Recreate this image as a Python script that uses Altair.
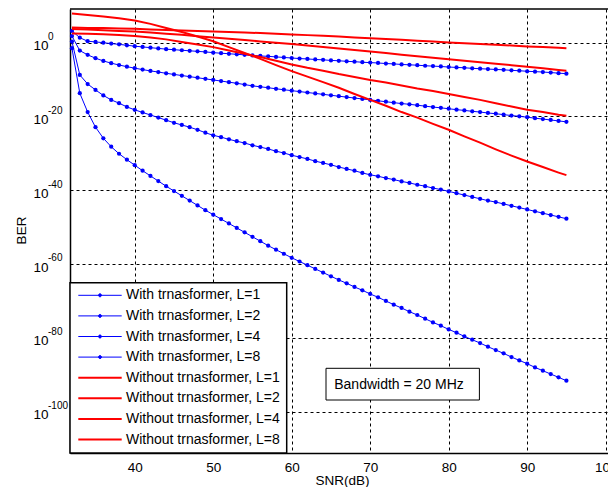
import altair as alt
import pandas as pd

# ---------------- data (log10 of BER) ----------------
snr_with = list(range(32, 96))
snr_without = list(range(32, 95, 2)) + [95]

series_with = ["With trnasformer, L=1", "With trnasformer, L=2",
               "With trnasformer, L=4", "With trnasformer, L=8"]
series_without = ["Without trnasformer, L=1", "Without trnasformer, L=2",
                  "Without trnasformer, L=4", "Without trnasformer, L=8"]

log_ber_with_L1 = [3.2, 1.35, 0.4, 0.2, 0.0, -0.25, -0.45, -0.7, -0.95, -1.15, -1.35, -1.55, -1.75, -1.9,
                   -2.05, -2.2, -2.35, -2.5, -2.7, -2.85, -3.0, -3.15, -3.3, -3.45, -3.6, -3.7, -3.85, -4.0,
                   -4.15, -4.3, -4.4, -4.55, -4.65, -4.8, -4.9, -5.05, -5.15, -5.3, -5.4, -5.5, -5.65, -5.75,
                   -5.9, -6.0, -6.1, -6.25, -6.35, -6.45, -6.6, -6.7, -6.8, -6.95, -7.05, -7.15, -7.25, -7.35,
                   -7.5, -7.6, -7.75, -7.85, -7.95, -8.1, -8.25, -8.4]
log_ber_with_L2 = [1.8, -2.15, -3.3, -4.2, -4.95, -5.55, -6.05, -6.5, -6.9, -7.3, -7.65, -7.95, -8.3, -8.6,
                   -8.9, -9.2, -9.5, -9.8, -10.1, -10.4, -10.7, -11.0, -11.35, -11.7, -11.95, -12.2, -12.5,
                   -12.75, -13.0, -13.25, -13.5, -13.75, -14.0, -14.25, -14.5, -14.75, -15.0, -15.25, -15.5,
                   -15.75, -16.0, -16.25, -16.5, -16.7, -16.95, -17.2, -17.45, -17.65, -17.9, -18.15, -18.35,
                   -18.6, -18.8, -19.05, -19.25, -19.5, -19.75, -19.95, -20.2, -20.45, -20.7, -20.95, -21.2,
                   -21.45]
log_ber_with_L4 = [0.3, -8.75, -11.2, -12.8, -14.3, -15.5, -16.4, -17.4, -18.2, -18.9, -19.6, -20.3, -21.0,
                   -21.7, -22.3, -22.9, -23.6, -24.4, -25.1, -25.6, -26.2, -26.7, -27.2, -27.8, -28.3, -28.8,
                   -29.4, -29.9, -30.5, -31.0, -31.5, -32.1, -32.6, -33.1, -33.7, -34.2, -34.7, -35.3, -35.8,
                   -36.2, -36.7, -37.1, -37.6, -38.0, -38.5, -38.9, -39.4, -39.8, -40.3, -40.8, -41.3, -41.8,
                   -42.3, -42.8, -43.2, -43.7, -44.2, -44.7, -45.2, -45.7, -46.2, -46.7, -47.2, -47.7]
log_ber_with_L8 = [-1.5, -13.7, -18.8, -22.9, -25.9, -28.2, -30.1, -31.7, -33.2, -34.7, -36.1, -37.5, -38.9,
                   -40.2, -41.5, -42.8, -44.1, -45.4, -46.6, -47.8, -49.0, -50.2, -51.4, -52.6, -53.8, -55.0,
                   -56.1, -57.2, -58.3, -59.3, -60.3, -61.3, -62.3, -63.3, -64.3, -65.2, -66.2, -67.1, -68.1,
                   -69.0, -70.0, -71.0, -71.9, -72.9, -73.8, -74.8, -75.8, -76.7, -77.7, -78.6, -79.6, -80.5,
                   -81.4, -82.4, -83.3, -84.2, -85.2, -86.1, -87.0, -88.0, -88.9, -89.8, -90.7, -91.6]

log_ber_without_L1 = [4.1, 4.0, 3.95, 3.85, 3.75, 3.6, 3.45, 3.3, 3.15, 3.0, 2.9, 2.75, 2.6, 2.45, 2.25,
                      2.05, 1.85, 1.65, 1.4, 1.2, 1.0, 0.8, 0.55, 0.3, 0.05, -0.15, -0.35, -0.55, -0.75,
                      -1.0, -1.2, -1.4, -1.5]
log_ber_without_L2 = [3.7, 3.55, 3.4, 3.2, 3.0, 2.75, 2.45, 2.15, 1.75, 1.4, 1.05, 0.7, 0.35, 0.0, -0.35,
                      -0.75, -1.15, -1.55, -1.95, -2.4, -2.8, -3.25, -3.7, -4.1, -4.5, -4.9, -5.3, -5.7,
                      -6.1, -6.5, -6.95, -7.4, -7.6]
log_ber_without_L4 = [2.5, 2.45, 2.3, 2.1, 1.8, 1.4, 0.9, 0.2, -0.5, -1.2, -2.1, -3.0, -3.9, -4.9, -5.9,
                      -6.8, -7.6, -8.5, -9.3, -10.1, -10.8, -11.6, -12.4, -13.1, -13.9, -14.7, -15.5, -16.4,
                      -17.3, -18.2, -18.8, -19.5, -19.8]
log_ber_without_L8 = [7.9, 7.5, 7.1, 6.6, 6.0, 5.1, 4.0, 2.9, 1.7, 0.4, -1.2, -2.8, -4.4, -6.1, -7.7, -9.2,
                      -10.7, -12.2, -13.9, -15.5, -17.1, -18.8, -20.3, -22.0, -23.6, -25.4, -27.1, -28.9,
                      -30.6, -32.2, -33.7, -35.2, -35.9]

x_ticks = [40, 50, 60, 70, 80, 90, 100]
y_tick_exps = [0, -20, -40, -60, -80, -100]
annotation_text = ["Bandwidth = 20 MHz"]

# ---------------- tables ----------------
rows = []
for name, vals in zip(series_with, [log_ber_with_L1, log_ber_with_L2, log_ber_with_L4, log_ber_with_L8]):
    for s, e in zip(snr_with, vals):
        rows.append({"snr": s, "ber": 10.0 ** e, "series": name})
df_with = pd.DataFrame(rows)

rows = []
for name, vals in zip(series_without, [log_ber_without_L1, log_ber_without_L2,
                                       log_ber_without_L4, log_ber_without_L8]):
    for s, e in zip(snr_without, vals):
        rows.append({"snr": s, "ber": 10.0 ** e, "series": name})
df_without = pd.DataFrame(rows)

df_note = pd.DataFrame({"label": annotation_text})
df_exp = pd.DataFrame({"ber": [10.0 ** e for e in y_tick_exps],
                       "exp": [str(e) for e in y_tick_exps]})

FONT = "Liberation Sans"
PLOT_W, PLOT_H = 538, 444

# ---------------- scales / axes ----------------
x_enc = alt.X("snr:Q",
              scale=alt.Scale(domain=[31.75, 100.3], nice=False, zero=False),
              axis=alt.Axis(values=x_ticks, title="SNR(dB)", format="d",
                            titleX=272, titleY=27, titleBaseline="middle", titleAlign="center"))
y_enc = alt.Y("ber:Q",
              scale=alt.Scale(type="log", domain=[10 ** -111.2, 10 ** 9.13], nice=False),
              axis=alt.Axis(values=[10.0 ** e for e in y_tick_exps], labelExpr="'10'",
                            labelOffset=3, labelPadding=22, title="BER",
                            titleX=-49, titleY=221, titleBaseline="middle", titleAlign="center"))

LINE_PATH = "M-4.34,0L4.34,0"
LINE_DOT_PATH = "M-4.34,0L4.34,0M0.3,0A0.3,0.3,0,1,1,-0.3,0A0.3,0.3,0,1,1,0.3,0"

common_legend = dict(title=None, orient="none", direction="vertical", padding=0,
                     symbolSize=100, symbolOffset=23, labelOffset=19,
                     labelFontSize=14, labelFont=FONT, labelColor="black", rowPadding=6.6)

legend_with = alt.Legend(legendX=0, legendY=279.3, symbolType=LINE_DOT_PATH,
                         symbolFillColor="#0000ff", symbolStrokeWidth=1, **common_legend)
legend_without = alt.Legend(legendX=0, legendY=361.7, symbolType=LINE_PATH,
                            symbolStrokeWidth=2, **common_legend)

color_with = alt.Color("series:N",
                       scale=alt.Scale(domain=series_with, range=["#0000ff"] * 4),
                       legend=legend_with)
stroke_without = alt.Stroke("series:N",
                            scale=alt.Scale(domain=series_without, range=["#ff0000"] * 4),
                            legend=legend_without)

top_border = alt.Chart(df_note).mark_rule(color="black", strokeWidth=1.5).encode(
    x=alt.value(0), x2=alt.value(PLOT_W), y=alt.value(0))

legend_box = alt.Chart(df_note).mark_rect(fill="white", stroke="black", strokeWidth=1.5).encode(
    x=alt.value(0), x2=alt.value(216.7), y=alt.value(273.7), y2=alt.value(PLOT_H))

blue_lines = alt.Chart(df_with).mark_line(strokeWidth=1).encode(
    x=x_enc, y=y_enc, color=color_with, order="snr:Q")
blue_points = alt.Chart(df_with).mark_circle(size=18, opacity=1).encode(
    x=x_enc, y=y_enc, color=color_with)
red_lines = alt.Chart(df_without).mark_line(strokeWidth=2).encode(
    x=x_enc, y=y_enc, stroke=stroke_without, order="snr:Q")

exp_text = alt.Chart(df_exp).mark_text(fontSize=10, font=FONT, color="black", align="left",
                                       baseline="middle", dy=-5.6).encode(
    x=alt.value(-22), y=y_enc, text="exp:N")

note_box = alt.Chart(df_note).mark_rect(fill="white", stroke="black", strokeWidth=1).encode(
    x=alt.value(256), x2=alt.value(409.4), y=alt.value(359.3), y2=alt.value(391))
note_text = alt.Chart(df_note).mark_text(fontSize=14, font=FONT, color="black",
                                         align="center", baseline="middle").encode(
    text="label:N", x=alt.value(329), y=alt.value(375.5))

chart = alt.layer(top_border, legend_box, blue_lines, blue_points, red_lines, exp_text,
                  note_box, note_text).properties(
    width=PLOT_W, height=PLOT_H,
    autosize=alt.AutoSizeParams(type="none"),
    padding={"left": 62, "top": 1, "right": 0, "bottom": 34},
).configure(font=FONT).configure_view(
    stroke=None
).configure_axis(
    grid=True, gridColor="black", gridDash=[3, 3], gridWidth=1, gridOpacity=1,
    domainColor="black", domainWidth=1.5, ticks=False, tickSize=0,
    labelFont=FONT, labelFontSize=13.5, labelColor="black", labelFlush=False, labelOverlap=False,
    titleFont=FONT, titleFontSize=13.5, titleFontWeight="normal", titleColor="black",
).configure_axisX(labelPadding=7)

chart.save("out.html", embed_options={"renderer": "svg", "actions": False})
